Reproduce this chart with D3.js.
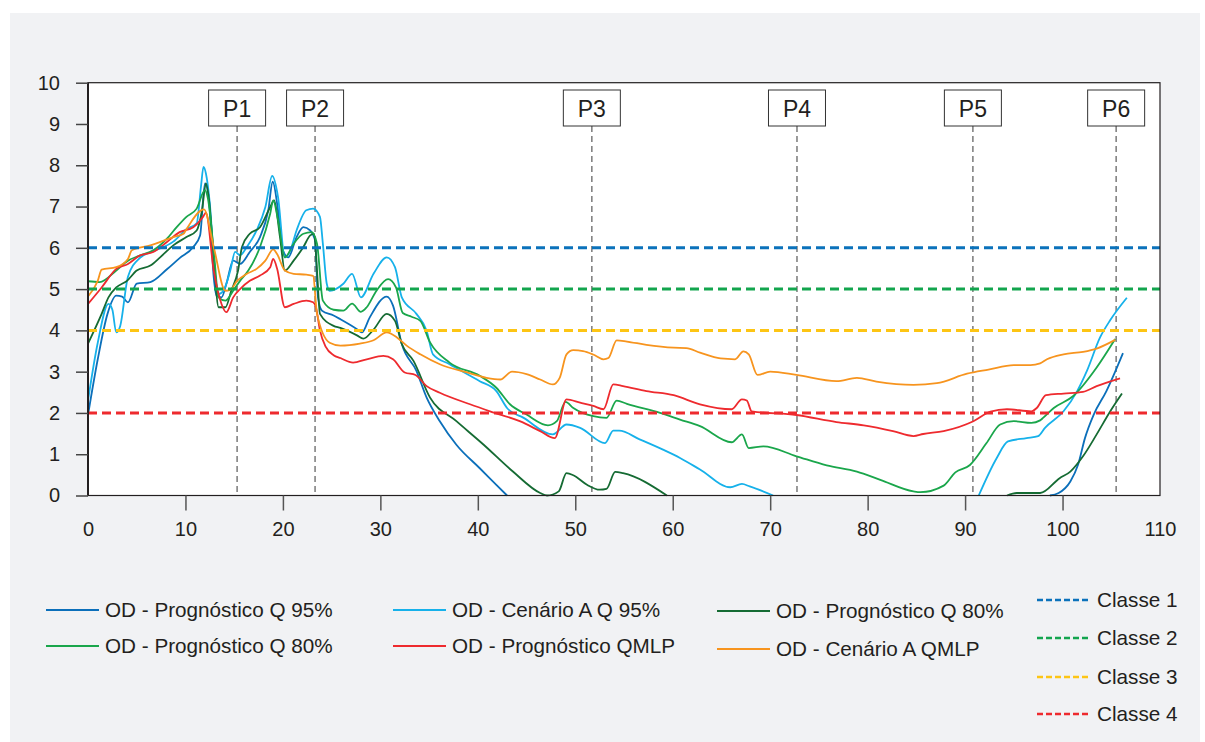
<!DOCTYPE html>
<html>
<head>
<meta charset="utf-8">
<script src="https://cdn.jsdelivr.net/npm/d3@7"></script>
<style>
  body { margin: 0; background: #ffffff; }
  text { font-family: "Liberation Sans", Arial, Helvetica, sans-serif; fill: #231f20; }
</style>
</head>
<body>
<svg id="chart" width="1205" height="742"></svg>
<script>
// Dissolved oxygen (OD, mg/L) along the river (km) for each scenario
const progQ95 = [[0,1.95],[1,3.3],[2,4.4],[2.9,4.84],[3.5,4.82],[4.1,4.68],[5.0,5.13],[6.4,5.17],[8.1,5.48],[9.4,5.75],[10.8,6.02],[11.5,6.3],[12.0,7.56],[12.4,7.2],[12.9,5.29],[13.2,4.84],[13.7,4.8],[14.2,5.13],[14.9,5.69],[15.6,5.61],[16.6,5.9],[17.65,6.26],[18.5,6.91],[18.95,7.6],[19.5,6.91],[20.0,5.94],[20.55,5.77],[21.4,6.26],[22.1,6.5],[22.8,6.42],[23.3,6.18],[23.6,4.8],[24.0,4.48],[25.2,4.36],[25.9,4.27],[27.6,4.03],[28.1,3.95],[28.9,4.31],[30.65,4.82],[31.3,4.6],[32.2,3.67],[33.7,3.02],[34.75,2.37],[36.1,1.8],[37.8,1.23],[40.2,0.66],[41.9,0.26],[43.0,0],[70,null],[98.7,0],[99.6,0.06],[100.8,0.34],[101.6,0.75],[102.3,1.39],[103.2,1.96],[104.5,2.53],[106.2,3.45]];

const cenarioAQ95 = [[0,2.3],[1,3.7],[2.1,4.64],[2.5,4.5],[2.9,3.95],[3.3,4.1],[4.1,5.3],[5.3,5.75],[6.7,5.92],[8.75,6.15],[10.1,6.45],[11.15,6.59],[11.6,7.5],[11.85,7.96],[12.1,7.8],[12.5,7.07],[13.0,5.45],[13.4,4.88],[13.9,4.96],[14.6,5.45],[15.1,5.9],[15.6,5.82],[16.3,6.02],[17.3,6.42],[18.2,6.99],[18.9,7.74],[19.5,7.23],[20.2,5.77],[20.7,5.9],[21.4,6.42],[22.4,6.91],[23.1,6.95],[23.8,6.75],[24.1,6.1],[24.5,5.13],[24.8,4.96],[26.2,5.13],[27.1,5.37],[28.0,4.8],[29.3,5.37],[30.65,5.77],[31.5,5.53],[32.2,4.8],[33.7,4.4],[34.75,3.99],[35.4,3.42],[37.1,3.18],[40.2,2.77],[41.9,2.53],[43.0,2.12],[44.7,1.88],[47.7,1.48],[49.1,1.72],[50.5,1.64],[53.05,1.27],[53.9,1.57],[54.5,1.57],[56.6,1.36],[59.0,1.11],[60.75,0.91],[62.8,0.63],[65.9,0.2],[67.1,0.28],[67.9,0.22],[70.3,0],[80,null],[91.4,0],[93.25,0.91],[94.4,1.31],[96.3,1.39],[97.5,1.44],[98.2,1.64],[100.1,2.04],[101.5,2.53],[102.5,3.02],[103.85,3.83],[104.9,4.25],[106.6,4.79]];

const progQ80Escuro = [[0,3.68],[1.4,4.4],[2.1,4.8],[2.9,5.04],[4.0,5.2],[5.0,5.45],[6.4,5.57],[7.4,5.77],[8.75,6.06],[10.1,6.26],[11.15,6.42],[11.7,6.91],[12.1,7.56],[12.4,7.2],[12.9,5.77],[13.4,4.56],[14.1,4.56],[14.7,4.96],[15.4,5.45],[15.8,6.02],[16.6,6.34],[17.65,6.5],[18.7,6.99],[19.1,7.15],[19.7,6.26],[20.2,5.45],[21.1,5.69],[22.1,6.02],[22.8,6.3],[23.2,6.34],[23.5,5.45],[23.8,4.4],[25.2,4.11],[25.9,4.06],[27.6,3.88],[28.25,3.8],[29.3,4.02],[30.65,4.4],[31.5,4.23],[32.2,3.67],[33.4,3.26],[35.1,2.37],[37.8,1.8],[40.6,1.23],[43.6,0.58],[46.4,0.06],[47.1,0],[48.3,0.1],[49.1,0.54],[49.8,0.49],[51.2,0.26],[52.5,0.14],[53.2,0.16],[54.1,0.57],[54.9,0.54],[59.4,0],[75,null],[94.3,0],[95.3,0.06],[97.7,0.06],[99.7,0.42],[100.8,0.58],[102.1,0.95],[103.5,1.48],[104.9,2.04],[106.1,2.47]];

const progQ80 = [[0,5.19],[1.2,5.17],[2.9,5.45],[4.1,5.69],[5.3,5.81],[6.7,5.94],[8.1,6.22],[9.1,6.5],[10.1,6.75],[11.15,6.95],[12.0,7.4],[12.3,7.2],[12.9,5.94],[13.4,4.8],[14.1,4.72],[14.9,4.96],[15.6,5.2],[16.45,5.45],[17.65,6.02],[18.7,6.83],[19.0,7.15],[19.5,6.67],[20.2,5.77],[21.1,6.1],[22.1,6.34],[22.95,6.38],[23.5,6.1],[24.1,4.72],[25.2,4.5],[26.2,4.48],[27.1,4.65],[28.0,4.45],[28.6,4.56],[29.6,4.96],[30.8,5.24],[31.6,5.04],[32.3,4.42],[33.2,4.33],[34.1,4.23],[35.1,3.71],[37.1,3.22],[40.2,2.9],[41.9,2.61],[43.3,2.21],[45.0,1.96],[47.2,1.7],[48.1,1.8],[49.0,2.27],[49.8,2.12],[51.85,1.92],[53.2,1.88],[54.25,2.3],[55.3,2.22],[58.7,2.0],[60.75,1.84],[62.8,1.68],[66.05,1.29],[67.1,1.48],[67.8,1.15],[69.3,1.19],[72.7,0.95],[75.8,0.73],[78.9,0.58],[81.3,0.38],[84.7,0.1],[85.4,0.08],[87.8,0.24],[89.0,0.56],[90.5,0.74],[92.2,1.27],[93.6,1.72],[95.0,1.8],[96.8,1.76],[97.7,1.82],[98.0,1.88],[99.1,2.12],[101.1,2.41],[103.5,3.1],[105.4,3.79]];

const progQMLP = [[0,4.64],[1.4,5.04],[2.9,5.49],[4.1,5.61],[5.3,5.81],[6.7,5.9],[8.1,6.14],[9.4,6.38],[10.8,6.5],[11.8,6.75],[12.1,6.85],[12.9,5.45],[13.7,4.64],[14.2,4.44],[14.9,4.8],[15.6,5.0],[16.6,5.2],[17.65,5.33],[18.7,5.53],[19.0,5.73],[19.4,5.5],[20.2,4.56],[21.1,4.64],[22.4,4.72],[23.1,4.68],[23.4,4.55],[23.8,4.0],[24.4,3.6],[25.2,3.4],[25.9,3.33],[27.2,3.22],[28.6,3.3],[30.3,3.38],[31.3,3.3],[32.5,2.98],[33.6,2.92],[34.75,2.65],[36.1,2.49],[39.2,2.21],[41.25,2.04],[44.3,1.8],[46.4,1.56],[47.9,1.39],[49.1,2.33],[50.5,2.25],[51.85,2.17],[52.9,2.09],[53.9,2.69],[54.9,2.65],[57.3,2.53],[60.1,2.43],[62.8,2.21],[66.05,2.09],[67.1,2.33],[67.6,2.3],[68.1,2.04],[72.7,1.95],[76.8,1.78],[79.6,1.7],[82.6,1.56],[84.7,1.44],[85.7,1.49],[87.8,1.56],[90.85,1.8],[92.6,2.03],[94.3,2.09],[96.8,2.04],[97.35,2.12],[98.3,2.43],[100.1,2.47],[102.1,2.51],[103.5,2.65],[105.9,2.84]];

const cenarioAQMLP = [[0,4.82],[1.0,5.2],[1.4,5.47],[2.9,5.53],[4.1,5.73],[4.5,5.94],[6.4,6.06],[8.75,6.26],[9.8,6.34],[10.1,6.45],[11.9,6.93],[12.9,6.02],[14.1,4.96],[14.6,4.98],[15.3,5.2],[16.3,5.37],[17.3,5.49],[18.2,5.69],[19.0,5.96],[19.4,5.85],[20.2,5.45],[21.1,5.37],[22.4,5.35],[23.1,5.32],[23.5,4.4],[24.8,3.7],[25.9,3.63],[27.9,3.68],[29.3,3.76],[30.65,3.95],[31.7,3.83],[32.7,3.63],[34.1,3.42],[36.1,3.18],[38.9,2.98],[40.9,2.85],[42.3,2.81],[43.5,3.0],[45.0,2.94],[46.4,2.81],[47.7,2.69],[48.4,2.85],[49.1,3.42],[49.8,3.52],[50.8,3.5],[51.9,3.41],[52.9,3.3],[53.4,3.33],[54.25,3.76],[55.3,3.73],[57.3,3.65],[60.1,3.58],[61.4,3.57],[62.8,3.46],[64.9,3.32],[66.4,3.3],[67.25,3.49],[67.8,3.42],[68.7,2.92],[70.0,3.0],[72.7,2.92],[76.8,2.77],[78.9,2.85],[80.9,2.76],[84.7,2.68],[87.1,2.72],[90.2,2.95],[92.4,3.05],[95.0,3.16],[96.7,3.16],[97.7,3.2],[98.4,3.3],[100.1,3.42],[102.1,3.48],[103.5,3.56],[105.4,3.77]];

// Water quality class limits (OD, mg/L)
const classNames = ["Classe 1", "Classe 2", "Classe 3", "Classe 4"];
const classValues = [6, 5, 4, 2];
const classColors = ["#0b72bb", "#13a54e", "#fdc514", "#ee2a2e"];

// Monitoring points (km)
const pointNames = ["P1", "P2", "P3", "P4", "P5", "P6"];
const pointKm = [15.3, 23.3, 51.7, 72.75, 90.8, 105.5];

// Axis ticks
const xTicks = [0, 10, 20, 30, 40, 50, 60, 70, 80, 90, 100, 110];
const yTicks = [0, 1, 2, 3, 4, 5, 6, 7, 8, 9, 10];

const series = [
  { name: "OD - Prognóstico Q 95%", data: progQ95, color: "#0b6fba" },
  { name: "OD - Cenário A Q 95%", data: cenarioAQ95, color: "#16b1ea" },
  { name: "OD - Prognóstico Q 80%", data: progQ80Escuro, color: "#156b33" },
  { name: "OD - Prognóstico Q 80%", data: progQ80, color: "#1aa64b" },
  { name: "OD - Prognóstico QMLP", data: progQMLP, color: "#ee2a2e" },
  { name: "OD - Cenário A QMLP", data: cenarioAQMLP, color: "#f7941e" }
];

const svg = d3.select("#chart");
const plotLeft = 88, plotRight = 1160, plotTop = 82.7, plotBottom = 495.5;
const fontStack = '"Liberation Sans", Arial, sans-serif';

const x = d3.scaleLinear().domain([0, 110]).range([plotLeft, plotRight]);
const y = d3.scaleLinear().domain([0, 10]).range([plotBottom, plotTop]);

// panel background
svg.append("rect").attr("x", 10).attr("y", 13).attr("width", 1190).attr("height", 729).attr("fill", "#f1f2f4");
svg.append("rect").attr("x", plotLeft).attr("y", plotTop)
  .attr("width", plotRight - plotLeft).attr("height", plotBottom - plotTop).attr("fill", "#ffffff");

// monitoring point guide lines
svg.append("g").selectAll("line").data(pointKm).join("line")
  .attr("x1", d => x(d)).attr("x2", d => x(d))
  .attr("y1", 126).attr("y2", plotBottom)
  .attr("stroke", "#7a7a7a").attr("stroke-width", 1.5).attr("stroke-dasharray", "6,4");

// series lines
const line = d3.line()
  .defined(d => d[1] !== null)
  .x(d => x(d[0])).y(d => y(d[1]))
  .curve(d3.curveMonotoneX);

svg.append("g").selectAll("path").data(series).join("path")
  .attr("d", d => line(d.data))
  .attr("fill", "none")
  .attr("stroke", d => d.color)
  .attr("stroke-width", 1.8)
  .attr("stroke-linejoin", "round");

// class limit lines
svg.append("g").selectAll("line").data(classValues).join("line")
  .attr("x1", plotLeft).attr("x2", plotRight)
  .attr("y1", d => y(d)).attr("y2", d => y(d))
  .attr("stroke", (d, i) => classColors[i])
  .attr("stroke-width", 3)
  .attr("stroke-dasharray", "9,5");

// monitoring point labels
const pg = svg.append("g").selectAll("g").data(pointKm).join("g")
  .attr("transform", d => `translate(${x(d)},0)`);
pg.append("rect").attr("x", -28.5).attr("y", 90).attr("width", 57).attr("height", 36)
  .attr("fill", "#ffffff").attr("stroke", "#333333").attr("stroke-width", 1);
pg.append("text").attr("x", 0).attr("y", 117).attr("text-anchor", "middle")
  .attr("font-size", 23).text((d, i) => pointNames[i]);

// plot frame
svg.append("rect").attr("x", plotLeft).attr("y", plotTop)
  .attr("width", plotRight - plotLeft).attr("height", plotBottom - plotTop)
  .attr("fill", "none").attr("stroke", "#231f20").attr("stroke-width", 1.2);
svg.append("line").attr("x1", plotLeft).attr("x2", plotLeft).attr("y1", plotTop).attr("y2", plotBottom)
  .attr("stroke", "#231f20").attr("stroke-width", 2);

// axes
const yAxis = svg.append("g").attr("transform", `translate(${plotLeft},0)`)
  .call(d3.axisLeft(y).tickValues(yTicks).tickSize(12).tickPadding(16).tickFormat(d3.format("d")));
yAxis.select(".domain").remove();
yAxis.selectAll(".tick line").attr("stroke", "#444").attr("stroke-width", 1.5);
yAxis.selectAll("text").attr("font-size", 20).style("font-family", fontStack);

const xAxis = svg.append("g").attr("transform", `translate(0,${plotBottom})`)
  .call(d3.axisBottom(x).tickValues(xTicks).tickSize(15).tickPadding(11).tickFormat(d3.format("d")));
xAxis.select(".domain").remove();
xAxis.selectAll(".tick line").attr("stroke", "#555").attr("stroke-width", 1.5)
  .attr("opacity", d => (d === 0 || d === 110) ? 0 : 1);
xAxis.selectAll("text").attr("font-size", 20).style("font-family", fontStack);

// series legend
const legendPos = [
  [46, 610], [393, 610], [717, 611],
  [46, 646], [393, 646], [717, 649]
];
const lg = svg.append("g").selectAll("g").data(series).join("g")
  .attr("transform", (d, i) => `translate(${legendPos[i][0]},${legendPos[i][1]})`);
lg.append("line").attr("x1", 0).attr("x2", 53).attr("y1", 0).attr("y2", 0)
  .attr("stroke", d => d.color).attr("stroke-width", 1.8);
lg.append("text").attr("x", 59).attr("y", 0).attr("dy", "0.35em")
  .attr("font-size", 20.7).text(d => d.name);

// class legend
const classRows = [600, 638, 677, 714];
const cg = svg.append("g").selectAll("g").data(classNames).join("g")
  .attr("transform", (d, i) => `translate(1037,${classRows[i]})`);
cg.append("line").attr("x1", 0).attr("x2", 53).attr("y1", 0).attr("y2", 0)
  .attr("stroke", (d, i) => classColors[i]).attr("stroke-width", 2.5).attr("stroke-dasharray", "6,3");
cg.append("text").attr("x", 60).attr("y", 0).attr("dy", "0.35em")
  .attr("font-size", 20.7).text(d => d);
</script>
</body>
</html>
